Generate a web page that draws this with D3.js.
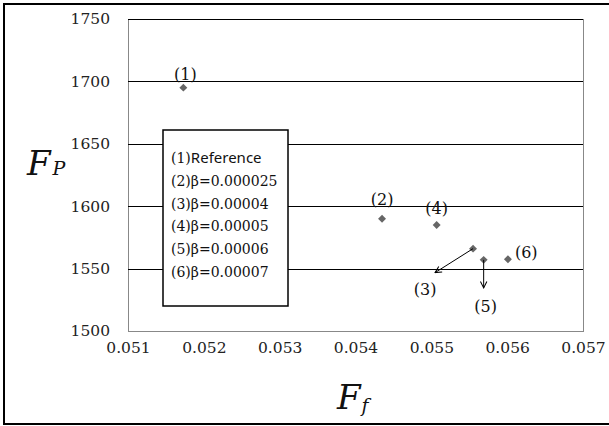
<!DOCTYPE html>
<html lang="en">
<head>
    <meta charset="UTF-8">
    <title>Ff vs FP</title>
    <script src="https://d3js.org/d3.v7.min.js"></script>
    <style>
        body { margin: 0; background: #fff; }
        .serif { font-family: "DejaVu Serif", serif; }
        .sans { font-family: "Noto Sans", "DejaVu Sans", sans-serif; }
    </style>
</head>
<body>
    <svg width="609" height="426"></svg>
    <script>
        // data
        const caseIds = ['(1)', '(2)', '(3)', '(4)', '(5)', '(6)'];
        const ffValues = [0.05173, 0.05435, 0.05555, 0.05507, 0.05569, 0.05601];
        const fpValues = [1695, 1590, 1566, 1585, 1557, 1557.5];
        const legendLabels = ['Reference', 'β=0.000025', 'β=0.00004', 'β=0.00005', 'β=0.00006', 'β=0.00007'];
        const xTicks = [0.051, 0.052, 0.053, 0.054, 0.055, 0.056, 0.057];
        const yTicks = [1500, 1550, 1600, 1650, 1700, 1750];

        const svg = d3.select('svg');
        const plot = { left: 128, top: 19, right: 583, bottom: 331 };

        // outer frame (right side runs past the picture edge)
        svg.append('rect')
            .attr('x', 4).attr('y', 4)
            .attr('width', 610).attr('height', 420)
            .attr('fill', 'none')
            .attr('stroke', '#000')
            .attr('stroke-width', 2);

        const x = d3.scaleLinear().domain([0.051, 0.057]).range([plot.left, plot.right]);
        const y = d3.scaleLinear().domain([1500, 1750]).range([plot.bottom, plot.top]);

        // plot area border
        svg.append('rect')
            .attr('x', plot.left + 0.5).attr('y', plot.top + 0.5)
            .attr('width', plot.right - plot.left).attr('height', plot.bottom - plot.top)
            .attr('fill', 'none')
            .attr('stroke', '#888')
            .attr('stroke-width', 1);

        // gridlines
        svg.append('g')
            .selectAll('line')
            .data(yTicks.slice(1))
            .join('line')
            .attr('x1', plot.left).attr('x2', plot.right)
            .attr('y1', d => Math.round(y(d)) + 0.5)
            .attr('y2', d => Math.round(y(d)) + 0.5)
            .attr('stroke', '#000')
            .attr('stroke-width', 1);

        // axes (labels only, like the original)
        const yAxis = d3.axisLeft(y).tickValues(yTicks).tickSize(0).tickPadding(18).tickFormat(d3.format('d'));
        const gy = svg.append('g').attr('transform', `translate(${plot.left},0)`).call(yAxis);
        gy.attr('font-family', null).attr('class', 'serif');
        gy.select('.domain').remove();
        gy.selectAll('text').attr('font-size', 15.5).attr('fill', '#222');

        const xAxis = d3.axisBottom(x).tickValues(xTicks).tickSize(0).tickPadding(11).tickFormat(d3.format('.3f'));
        const gx = svg.append('g').attr('transform', `translate(0,${plot.bottom})`).call(xAxis);
        gx.attr('font-family', null).attr('class', 'serif');
        gx.select('.domain').remove();
        gx.selectAll('text').attr('font-size', 15.5).attr('fill', '#222');

        // axis titles
        const yt = svg.append('text').attr('class', 'serif').attr('x', 27).attr('y', 175).attr('font-style', 'italic').attr('fill', '#111');
        yt.append('tspan').attr('font-size', 34).text('F');
        yt.append('tspan').attr('font-size', 19).attr('dx', 2).text('P');

        const xt = svg.append('text').attr('class', 'serif').attr('x', 337).attr('y', 409).attr('font-style', 'italic').attr('fill', '#111');
        xt.append('tspan').attr('font-size', 34).text('F');
        xt.append('tspan').attr('font-size', 19).attr('dx', 1).attr('dy', 3).text('f');

        // points
        const pts = caseIds.map((id, i) => ({ id, ff: ffValues[i], fp: fpValues[i] }));
        svg.append('g')
            .selectAll('path')
            .data(pts)
            .join('path')
            .attr('d', d3.symbol(d3.symbolDiamond2, 40))
            .attr('transform', d => `translate(${x(d.ff)},${y(d.fp)})`)
            .attr('fill', '#666');

        // point labels
        const labelPos = {
            '(1)': [2, -8, 'middle'],
            '(2)': [0, -14, 'middle'],
            '(4)': [0, -11, 'middle'],
            '(6)': [7, -1, 'start'],
            '(3)': [-48, 46, 'middle'],
            '(5)': [2, 52, 'middle']
        };
        svg.append('g')
            .attr('class', 'serif')
            .selectAll('text')
            .data(pts)
            .join('text')
            .attr('x', d => x(d.ff) + labelPos[d.id][0])
            .attr('y', d => y(d.fp) + labelPos[d.id][1])
            .attr('text-anchor', d => labelPos[d.id][2])
            .attr('font-size', 16)
            .attr('fill', '#111')
            .text(d => d.id);

        // arrows for (3) and (5)
        svg.append('defs').append('marker')
            .attr('id', 'ah')
            .attr('viewBox', '0 0 10 10')
            .attr('refX', 9).attr('refY', 5)
            .attr('markerWidth', 8).attr('markerHeight', 8)
            .attr('orient', 'auto')
            .append('path')
            .attr('d', 'M1,1 L9,5 L1,9')
            .attr('fill', 'none')
            .attr('stroke', '#000')
            .attr('stroke-width', 1.3);

        const arrows = [
            { from: pts[2], dx: -38, dy: 24 },
            { from: pts[4], dx: 0, dy: 28 }
        ];
        svg.append('g')
            .selectAll('line')
            .data(arrows)
            .join('line')
            .attr('x1', d => x(d.from.ff))
            .attr('y1', d => y(d.from.fp))
            .attr('x2', d => x(d.from.ff) + d.dx)
            .attr('y2', d => y(d.from.fp) + d.dy)
            .attr('stroke', '#000')
            .attr('stroke-width', 1)
            .attr('marker-end', 'url(#ah)');

        // legend box
        const legend = svg.append('g').attr('transform', 'translate(163,130)');
        legend.append('rect')
            .attr('width', 125).attr('height', 176)
            .attr('fill', '#fff')
            .attr('stroke', '#000')
            .attr('stroke-width', 1.5);
        const rows = legend.selectAll('text')
            .data(legendLabels)
            .join('text')
            .attr('class', 'serif')
            .attr('x', 8)
            .attr('y', (d, i) => 33 + i * 22.8)
            .attr('font-size', 14)
            .attr('fill', '#111');
        rows.append('tspan').text((d, i) => caseIds[i]);
        rows.append('tspan')
            .attr('class', d => d === 'Reference' ? 'sans' : 'serif')
            .attr('font-size', d => d === 'Reference' ? 15 : 14)
            .text(d => d);
    </script>
</body>
</html>
